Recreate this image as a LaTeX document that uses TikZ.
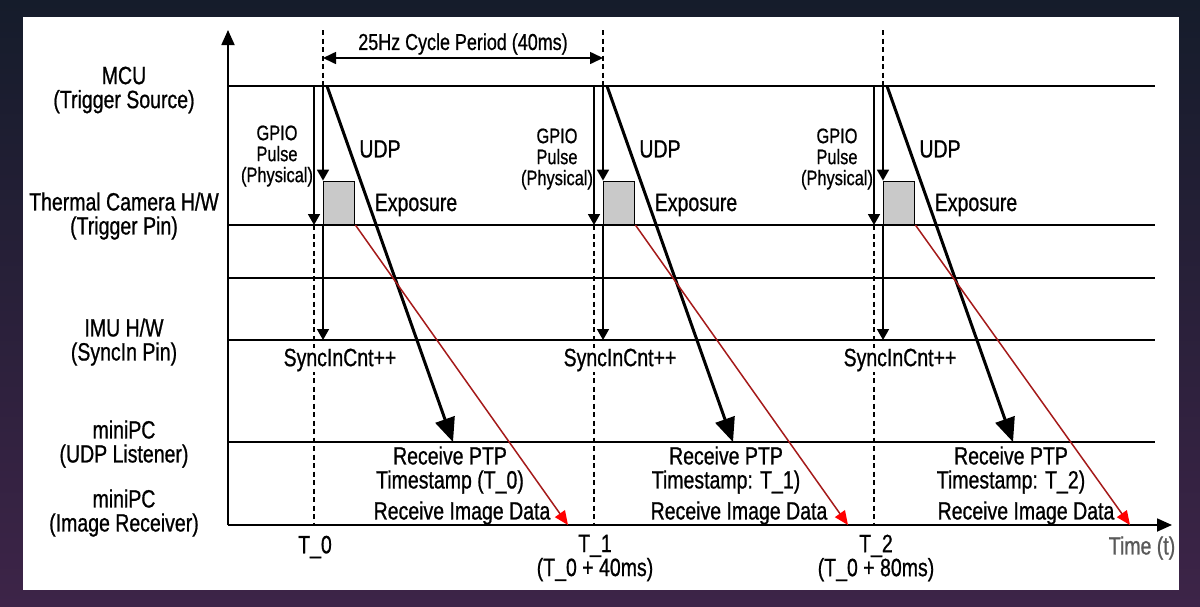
\documentclass[tikz,border=0pt]{standalone}
\usepackage{fontspec}
\setmainfont[FakeStretch=0.78, FakeBold=0.8]{Liberation Sans}
\usepackage{xcolor}
\usepackage{tikz}
\usetikzlibrary{arrows.meta, positioning, calc}

\definecolor{bgnavy}{HTML}{151C2B}
\definecolor{bgpurple}{HTML}{3D2448}
\definecolor{udpred}{HTML}{A51A1A}

\begin{document}
\begin{tikzpicture}[
    x=1pt, y=-1pt,
    every node/.style={execute at begin node={\lineskiplimit=-30pt}},
    lane/.style={line width=1.8pt},
    axis/.style={line width=1.8pt, -{Triangle[length=15pt, width=13pt]}},
    marker/.style={line width=1.8pt, dash pattern=on 5pt off 3.5pt},
    gpio/.style={line width=1.7pt, -{Triangle[length=11pt, width=12pt]}},
    udp/.style={line width=3pt, -{Triangle[length=24pt, width=20pt]}},
    imgdata/.style={draw=udpred, line width=1.5pt, -{Triangle[length=14pt, width=12pt, color=red]}},
    period/.style={line width=1.6pt, {Triangle[length=13pt, width=12pt]}-{Triangle[length=13pt, width=12pt]}},
    expo/.style={draw, fill=gray!42, line width=1.4pt, minimum width=31pt, minimum height=43pt, inner sep=0pt},
    lbl/.style={align=center, inner sep=0pt, font=\fontsize{25}{24}\selectfont},
    who/.style={align=center, inner sep=0pt, font=\fontsize{25}{24}\selectfont},
    pulse/.style={align=center, inner sep=0pt, font=\fontsize{21}{21}\selectfont}
]
    % frame
    \useasboundingbox (0,0) rectangle (1200,606);
    \shade[top color=bgnavy, bottom color=bgpurple] (0,0) rectangle (1200,606);
    \fill[white] (23,17) rectangle (1179,590);

    % lanes
    \coordinate (origin) at (228,525);
    \coordinate (laneend) at (1155,525);
    \coordinate (mcu) at (228,86);
    \coordinate (cam) at (228,225);
    \coordinate (mid) at (228,278);
    \coordinate (imu) at (228,340);
    \coordinate (udpl) at (228,442);
    \coordinate (per) at (228,58);

    \node[who] (whoMcu) at (124,90) {MCU\\(Trigger Source)};
    \node[who] (whoCam) at (124,216) {Thermal Camera H/W\\(Trigger Pin)};
    \node[who] (whoImu) at (124,342) {IMU H/W\\(SyncIn Pin)};
    \node[who] (whoUdp) at (124,444) {miniPC\\(UDP Listener)};
    \node[who] (whoImg) at (124,513) {miniPC\\(Image Receiver)};

    \draw[lane] (mcu) -- (mcu -| laneend);
    \draw[lane] (cam) -- (cam -| laneend);
    \draw[lane] (mid) -- (mid -| laneend);
    \draw[lane] (imu) -- (imu -| laneend);
    \draw[lane] (udpl) -- (udpl -| laneend);
    \draw[axis] (origin) -- (228,30);
    \draw[axis] (origin) -- (1172,525);
    \node[lbl, text=black!65] (timeLbl) at (1142,548) {Time (t)};

    % cycle markers
    \coordinate (c0) at (323,30);
    \coordinate (c1) at (603,30);
    \coordinate (c2) at (883,30);
    \coordinate (g0) at (314,30);
    \coordinate (g1) at (594,30);
    \coordinate (g2) at (874,30);

    \draw[period] (c0 |- per) -- (c1 |- per);
    \node[font=\fontsize{23}{22}\selectfont, inner sep=0pt] (periodLbl) at (463,44) {25Hz Cycle Period (40ms)};

    % cycle 0
    \draw[marker] (c0) -- (c0 |- mcu);
    \node[expo, anchor=south west] (e0) at (c0 |- cam) {};
    \draw[gpio] (c0 |- mcu) -- (e0.north west);
    \draw[gpio] (g0 |- mcu) -- (g0 |- cam);
    \draw[gpio] (e0.south west) -- (c0 |- imu);
    \draw[marker] (g0 |- cam) -- (g0 |- origin);
    \node[pulse] (gp0) at (277,156) {GPIO\\Pulse\\(Physical)};
    \node[lbl] (udp0) at (380,149) {UDP};
    \node[lbl] (ex0) at (416,205) {Exposure};
    \node[lbl, fill=white, inner sep=1pt] (sc0) at (340,360) {SyncInCnt++};
    \node[lbl] (ptp0) at (450,470) {Receive PTP\\Timestamp (T\_0)};
    \node[lbl] (rd0) at (462,513) {Receive Image Data};
    \node[lbl] (t0) at (315,547) {T\_0};
    \coordinate (s0) at (327,86);
    \coordinate (a0) at (453,442);
    \coordinate (r0) at (568,525);
    \draw[udp] (s0) -- (a0);
    \draw[imgdata] (e0.south east) -- (r0);

    % cycle 1
    \draw[marker] (c1) -- (c1 |- mcu);
    \node[expo, anchor=south west] (e1) at (c1 |- cam) {};
    \draw[gpio] (c1 |- mcu) -- (e1.north west);
    \draw[gpio] (g1 |- mcu) -- (g1 |- cam);
    \draw[gpio] (e1.south west) -- (c1 |- imu);
    \draw[marker] (g1 |- cam) -- (g1 |- origin);
    \node[pulse] (gp1) at (557,159) {GPIO\\Pulse\\(Physical)};
    \node[lbl] (udp1) at (660,149) {UDP};
    \node[lbl] (ex1) at (696,205) {Exposure};
    \node[lbl, fill=white, inner sep=1pt] (sc1) at (620,360) {SyncInCnt++};
    \node[lbl] (ptp1) at (726,470) {Receive PTP\\Timestamp: T\_1)};
    \node[lbl] (rd1) at (739,513) {Receive Image Data};
    \node[lbl] (t1) at (595,558) {T\_1\\(T\_0 + 40ms)};
    \coordinate (s1) at (607,86);
    \coordinate (a1) at (733,442);
    \coordinate (r1) at (848,525);
    \draw[udp] (s1) -- (a1);
    \draw[imgdata] (e1.south east) -- (r1);

    % cycle 2
    \draw[marker] (c2) -- (c2 |- mcu);
    \node[expo, anchor=south west] (e2) at (c2 |- cam) {};
    \draw[gpio] (c2 |- mcu) -- (e2.north west);
    \draw[gpio] (g2 |- mcu) -- (g2 |- cam);
    \draw[gpio] (e2.south west) -- (c2 |- imu);
    \draw[marker] (g2 |- cam) -- (g2 |- origin);
    \node[pulse] (gp2) at (837,159) {GPIO\\Pulse\\(Physical)};
    \node[lbl] (udp2) at (940,149) {UDP};
    \node[lbl] (ex2) at (976,205) {Exposure};
    \node[lbl, fill=white, inner sep=1pt] (sc2) at (900,360) {SyncInCnt++};
    \node[lbl] (ptp2) at (1011,470) {Receive PTP\\Timestamp: T\_2)};
    \node[lbl] (rd2) at (1026,513) {Receive Image Data};
    \node[lbl] (t2) at (876,558) {T\_2\\(T\_0 + 80ms)};
    \coordinate (s2) at (887,86);
    \coordinate (a2) at (1013,442);
    \coordinate (r2) at (1130,525);
    \draw[udp] (s2) -- (a2);
    \draw[imgdata] (e2.south east) -- (r2);
\end{tikzpicture}
\end{document}
